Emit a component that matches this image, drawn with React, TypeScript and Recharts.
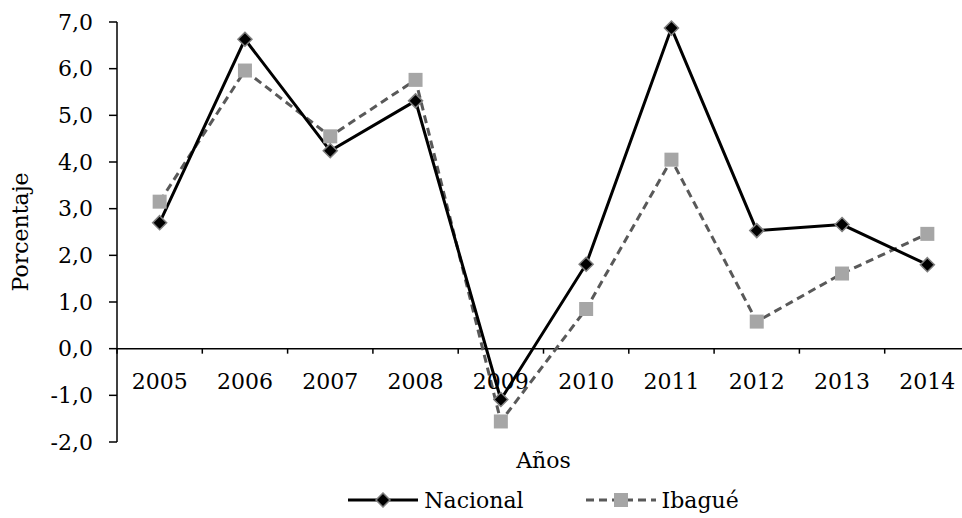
import { Label, Legend, Line, LineChart, ReferenceLine, XAxis, YAxis } from "recharts";

const YEARS = ["2005", "2006", "2007", "2008", "2009", "2010", "2011", "2012", "2013", "2014"];
const NACIONAL = [2.7, 6.63, 4.24, 5.31, -1.09, 1.81, 6.87, 2.53, 2.66, 1.8];
const IBAGUE = [3.15, 5.96, 4.55, 5.76, -1.56, 0.85, 4.05, 0.58, 1.61, 2.46];
const Y_TICKS = [-2, -1, 0, 1, 2, 3, 4, 5, 6, 7];

const FONT = "'DejaVu Serif', 'Liberation Serif', serif";
const FONT_SIZE = 22;

const CHART_W = 970;
const CHART_H = 518;
const MARGIN = { top: 22, right: 0, bottom: 3, left: 0 };
const Y_AXIS_W = 117;
const X_AXIS_H = 43;
const LEGEND_H = 30;
const PLOT_TOP = MARGIN.top;
const PLOT_H = CHART_H - MARGIN.top - MARGIN.bottom - LEGEND_H - X_AXIS_H;
const Y_MIN = Y_TICKS[0];
const Y_MAX = Y_TICKS[Y_TICKS.length - 1];
const ZERO_Y = PLOT_TOP + ((Y_MAX - 0) / (Y_MAX - Y_MIN)) * PLOT_H;
const BAND = (CHART_W - Y_AXIS_W) / YEARS.length;

const data = YEARS.map((year, i) => ({
  year,
  nacional: NACIONAL[i],
  ibague: IBAGUE[i],
}));

const fmt = (v: number) => v.toFixed(1).replace(".", ",");

function YearTick(props: any) {
  const { x, index, payload } = props;
  const half = payload?.offset ?? BAND / 2;
  const last = index === YEARS.length - 1;
  return (
    <g>
      <line x1={x - half} x2={x - half} y1={ZERO_Y} y2={ZERO_Y + 5} stroke="#000" strokeWidth={1.5} />
      {last && (
        <line x1={x + half} x2={x + half} y1={ZERO_Y} y2={ZERO_Y + 5} stroke="#000" strokeWidth={1.5} />
      )}
      <text x={x} y={ZERO_Y + 40} textAnchor="middle" fontFamily={FONT} fontSize={FONT_SIZE} fill="#000">
        {payload.value}
      </text>
    </g>
  );
}

function DiamondDot(props: any) {
  const { cx, cy } = props;
  if (cx == null || cy == null) return <g />;
  const r = 7;
  return (
    <polygon
      points={`${cx},${cy - r} ${cx + r},${cy} ${cx},${cy + r} ${cx - r},${cy}`}
      fill="#000"
      stroke="#7f7f7f"
      strokeWidth={1.5}
    />
  );
}

function SquareDot(props: any) {
  const { cx, cy } = props;
  if (cx == null || cy == null) return <g />;
  const s = 14;
  return <rect x={cx - s / 2} y={cy - s / 2} width={s} height={s} fill="#a6a6a6" />;
}

function LegendContent() {
  const item = (name: string, dashed: boolean) => (
    <div style={{ display: "flex", alignItems: "center" }}>
      <svg width={70} height={16}>
        <line
          x1={0}
          x2={70}
          y1={8}
          y2={8}
          stroke={dashed ? "#595959" : "#000"}
          strokeWidth={3}
          strokeDasharray={dashed ? "8 5" : undefined}
        />
        {dashed ? <SquareDot cx={35} cy={8} /> : <DiamondDot cx={35} cy={8} />}
      </svg>
      <span style={{ marginLeft: 6, fontFamily: FONT, fontSize: FONT_SIZE, color: "#000" }}>{name}</span>
    </div>
  );
  return (
    <div
      style={{
        height: LEGEND_H,
        display: "flex",
        justifyContent: "center",
        alignItems: "center",
        gap: 62,
        paddingLeft: Y_AXIS_W,
        boxSizing: "border-box",
      }}
    >
      {item("Nacional", false)}
      {item("Ibagué", true)}
    </div>
  );
}

export default function App() {
  return (
    <div
      style={{
        position: "absolute",
        left: 0,
        top: 0,
        width: 962,
        height: 518,
        overflow: "hidden",
        background: "#fff",
      }}
    >
      <LineChart width={CHART_W} height={CHART_H} data={data} margin={MARGIN}>
        <XAxis
          dataKey="year"
          scale="band"
          height={X_AXIS_H}
          axisLine={false}
          tickLine={false}
          tick={<YearTick />}
          interval={0}
        >
          <Label
            content={(p: any) => {
              const vb = p.viewBox || {};
              return (
                <text
                  x={vb.x + vb.width / 2}
                  y={vb.y + 26}
                  textAnchor="middle"
                  fontFamily={FONT}
                  fontSize={FONT_SIZE}
                  fill="#000"
                >
                  Años
                </text>
              );
            }}
          />
        </XAxis>
        <YAxis
          width={Y_AXIS_W}
          domain={[Y_MIN, Y_MAX]}
          ticks={Y_TICKS}
          interval={0}
          tickFormatter={fmt}
          axisLine={{ stroke: "#000", strokeWidth: 1.5 }}
          tickLine={{ stroke: "#000", strokeWidth: 1.5 }}
          tickSize={8}
          tickMargin={16}
          tick={{ fill: "#000", fontFamily: FONT, fontSize: FONT_SIZE }}
        >
          <Label
            content={(p: any) => {
              const vb = p.viewBox || {};
              const cx = 20;
              const cy = vb.y + vb.height / 2;
              return (
                <text
                  x={cx}
                  y={cy}
                  transform={`rotate(-90, ${cx}, ${cy})`}
                  textAnchor="middle"
                  dominantBaseline="central"
                  fontFamily={FONT}
                  fontSize={FONT_SIZE}
                  fill="#000"
                >
                  Porcentaje
                </text>
              );
            }}
          />
        </YAxis>
        <ReferenceLine y={0} stroke="#000" strokeWidth={1.5} />
        <Legend verticalAlign="bottom" content={<LegendContent />} />
        <Line
          dataKey="ibague"
          name="Ibagué"
          stroke="#595959"
          strokeWidth={3}
          strokeDasharray="8 5"
          dot={<SquareDot />}
          activeDot={false}
          isAnimationActive={false}
        />
        <Line
          dataKey="nacional"
          name="Nacional"
          stroke="#000"
          strokeWidth={3}
          dot={<DiamondDot />}
          activeDot={false}
          isAnimationActive={false}
        />
      </LineChart>
    </div>
  );
}
